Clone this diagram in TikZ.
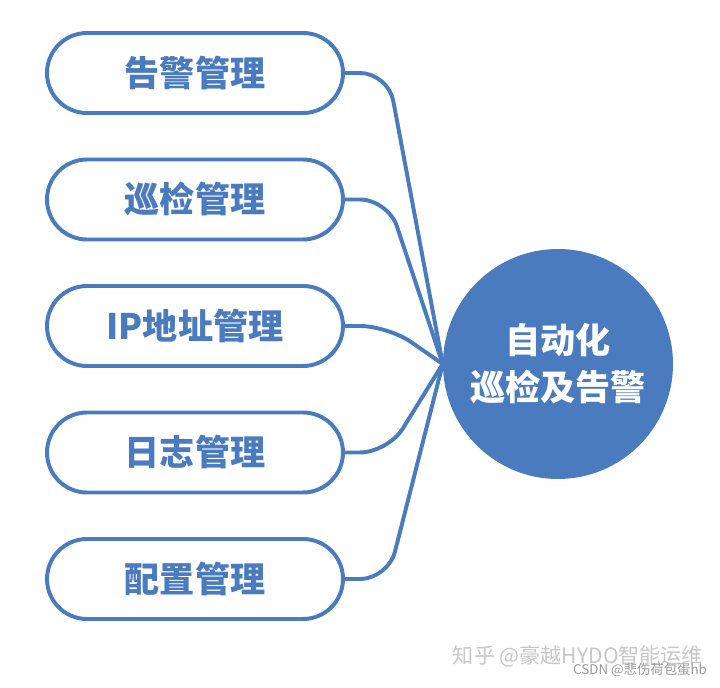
\documentclass[tikz,border=0pt]{standalone}
\usepackage{fontspec}
\setmainfont{Noto Sans CJK SC}
\usetikzlibrary{positioning}
\definecolor{hyblue}{RGB}{74,123,190}

\begin{document}
\begin{tikzpicture}[
    item/.style={
        draw=hyblue,
        line width=2.8pt,
        rectangle,
        rounded corners=1cm,   % fully rounded ends
        minimum width=7.4cm,
        minimum height=2cm,
        text=hyblue,
        font=\bfseries\fontsize{25}{30}\selectfont
    },
    hub/.style={
        circle,
        fill=hyblue,
        minimum size=5.75cm,
        inner sep=0pt,
        text=white,
        align=center,
        font=\bfseries\fontsize{25}{33.5}\selectfont
    },
    link/.style={
        draw=hyblue,
        line width=2.8pt,
        rounded corners=20pt
    },
    wmark/.style={
        inner sep=0pt
    }
]
    \useasboundingbox (0,0) rectangle (18,17.2);

        \node[item] (alarm) at (4.875,15.375) {告警管理};
        \node[item] (patrol) at (4.875,12.2125) {巡检管理};
        \node[item] (ipaddr) at (4.875,9.05) {IP地址管理};
        \node[item] (logs) at (4.875,5.8875) {日志管理};
        \node[item] (config) at (4.875,2.725) {配置管理};

        \node[hub] (auto) at (13.95,8.1) {自动化\\巡检及告警};

        \coordinate (bend) at (9.7,8.1);

    \draw[link] (alarm.east) -- (alarm.east -| bend) -- (auto.west);
    \draw[link] (patrol.east) -- (patrol.east -| bend) -- (auto.west);
    \draw[link] (ipaddr.east) -- (ipaddr.east -| bend) -- (auto.west);
    \draw[link] (logs.east) -- (logs.east -| bend) -- (auto.west);
    \draw[link] (config.east) -- (config.east -| bend) -- (auto.west);

        % watermarks
        \node[wmark, text=black!22, font=\fontsize{15}{18}\selectfont] (zhihu) at (14.45,0.8) {知乎 @豪越HYDO智能运维};
        \node[wmark, text=black!40, font=\fontsize{9.5}{11}\selectfont, anchor=east] (csdn) at (17.68,0.45) {CSDN @悲伤荷包蛋hb};
\end{tikzpicture}
\end{document}
